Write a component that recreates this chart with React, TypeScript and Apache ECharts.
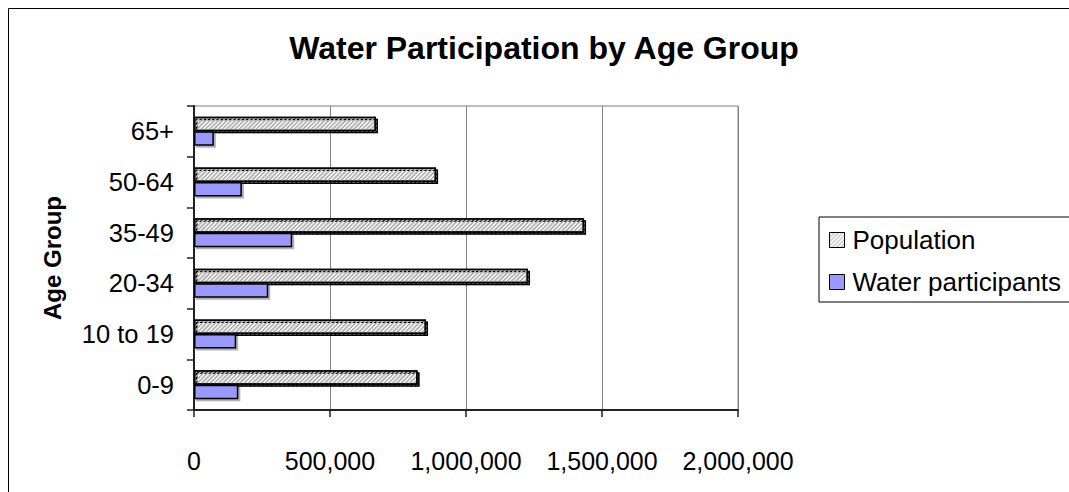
import React, { useEffect, useRef } from "react";
import * as echarts from "echarts";

const categories = ["0-9", "10 to 19", "20-34", "35-49", "50-64", "65+"];
const population = [822000, 853000, 1228000, 1434000, 890000, 669000];
const waterParticipants = [163000, 155000, 273000, 361000, 176000, 73000];
const xTicks = [0, 500000, 1000000, 1500000, 2000000];

export default function App() {
  const ref = useRef<HTMLDivElement>(null);
  useEffect(() => {
    document.documentElement.style.overflow = "hidden";
    document.body.style.overflow = "hidden";
    const chart = echarts.init(ref.current!, null, { renderer: "svg" });
    const font = "Liberation Sans, Arial, sans-serif";
    const barShadow = {
      shadowColor: "rgba(0,0,0,0.3)",
      shadowOffsetX: 2,
      shadowOffsetY: 2,
      shadowBlur: 0,
    };
    chart.setOption({
      animation: false,
      backgroundColor: "#ffffff",
      textStyle: { fontFamily: font },
      title: {
        text: "Water Participation by Age Group",
        left: 531,
        top: 19,
        textAlign: "center",
        textStyle: { fontFamily: font, fontSize: 32, fontWeight: "bold", color: "#000" },
      },
      graphic: [
        { type: "rect", shape: { x: 0.5, y: 0.5, width: 1200, height: 1000 }, style: { fill: "none", stroke: "#000", lineWidth: 1 }, silent: true },
      ],
      legend: {
        orient: "vertical",
        left: 811,
        top: 209,
        padding: [8, 30, 5, 10],
        borderColor: "#000",
        borderWidth: 1,
        itemWidth: 15,
        itemHeight: 15,
        itemGap: 12,
        icon: "rect",
        textStyle: { fontFamily: font, fontSize: 26, color: "#000", lineHeight: 30, padding: [0, 0, 0, 3] },
        itemStyle: { borderWidth: 1, borderColor: "#000", shadowBlur: 0, shadowOffsetX: 0, shadowOffsetY: 0, shadowColor: "transparent" },
        data: ["Population", "Water participants"],
      },
      grid: {
        left: 186,
        top: 98,
        width: 544,
        height: 304,
        show: true,
        borderColor: "#808080",
        borderWidth: 1,
        backgroundColor: "transparent",
      },
      xAxis: {
        type: "value",
        min: 0,
        max: 2000000,
        interval: 500000,
        axisLine: { show: true, lineStyle: { color: "#222", width: 2 } },
        axisTick: { show: true, length: 7, lineStyle: { color: "#222", width: 1.5 } },
        splitLine: { show: true, lineStyle: { color: "#808080", width: 1 } },
        axisLabel: {
          margin: 38,
          fontFamily: font,
          fontSize: 25,
          color: "#000",
          formatter: (v: number) => (xTicks.includes(v) ? v.toLocaleString("en-US") : ""),
        },
      },
      yAxis: {
        type: "category",
        data: categories,
        name: "Age Group",
        nameLocation: "middle",
        nameGap: 130,
        nameTextStyle: { fontFamily: font, fontSize: 24, fontWeight: "bold", color: "#000" },
        axisLine: { show: true, lineStyle: { color: "#222", width: 2 } },
        axisTick: { show: true, length: 7, lineStyle: { color: "#222", width: 1.5 } },
        axisLabel: { margin: 20, fontFamily: font, fontSize: 25.5, color: "#000" },
        splitLine: { show: false },
      },
      series: [
        {
          name: "Population",
          type: "bar",
          data: population,
          barWidth: 14.5,
          barGap: "0%",
          itemStyle: {
            color: "#f4f4f4",
            borderColor: "#000",
            borderWidth: 1.5,
            ...barShadow,
            decal: {
              symbol: "rect",
              symbolSize: 1,
              color: "#c4c4c4",
              dashArrayX: [1, 0],
              dashArrayY: [1, 1.5],
              rotation: -Math.PI / 4,
            },
          },
        },
        {
          name: "Water participants",
          type: "bar",
          data: waterParticipants,
          barWidth: 14.5,
          barGap: "0%",
          itemStyle: {
            color: "#9999ff",
            borderColor: "#000",
            borderWidth: 1.5,
            ...barShadow,
          },
        },
      ],
    });
    return () => chart.dispose();
  }, []);
  return (
    <div
      ref={ref}
      style={{ position: "absolute", left: 8, top: 8, width: 1061, height: 484 }}
    />
  );
}
